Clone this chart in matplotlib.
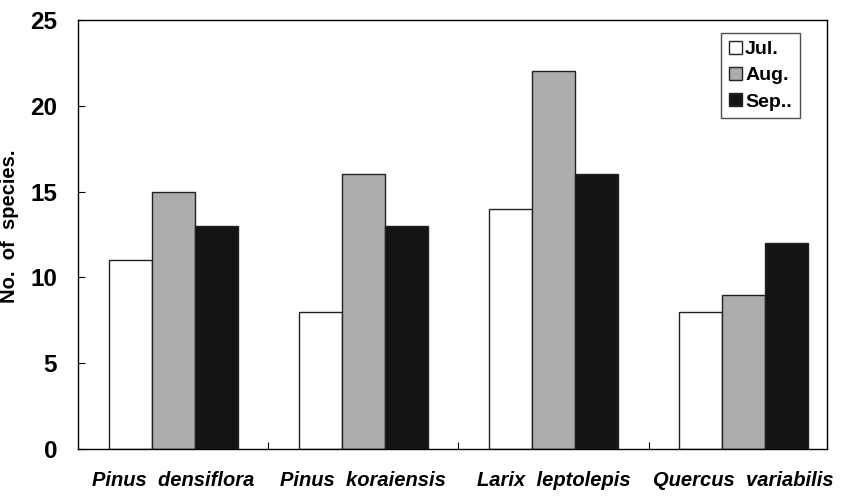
import matplotlib.pyplot as plt
import numpy as np

plt.rcParams['font.family'] = ['Liberation Sans', 'DejaVu Sans']

species = ["Pinus  densiflora", "Pinus  koraiensis", "Larix  leptolepis", "Quercus  variabilis"]
months = ["Jul.", "Aug.", "Sep.."]
jul = [11, 8, 14, 8]
aug = [15, 16, 22, 9]
sep = [13, 13, 16, 12]
colors = ["white", "#adadad", "#141414"]

fig = plt.figure(figsize=(8.43, 4.98), dpi=100)
ax = fig.add_axes([0.0925, 0.098, 0.889, 0.862])

x = np.arange(len(species))
w = 0.226
for i, (vals, c, lab) in enumerate(zip([jul, aug, sep], colors, months)):
    ax.bar(x + (i - 1) * w, vals, w, color=c, edgecolor="#222222", linewidth=1, label=lab)

ax.set_xlim(-0.5, 3.44)
ax.set_ylim(0, 25)
ax.set_yticks([0, 5, 10, 15, 20, 25])
ax.set_yticklabels(["0", "5", "10", "15", "20", "25"], fontsize=17.5, fontweight="bold")
ax.tick_params(axis="y", direction="in", length=5, pad=15)

# group boundary ticks, labels placed separately
ax.set_xticks([0.5, 1.5, 2.5])
ax.set_xticks(x, minor=True)
ax.set_xticklabels([])
ax.set_xticklabels(species, minor=True, fontsize=14.5, fontweight="bold", style="italic")
ax.tick_params(axis="x", which="major", direction="in", length=5)
ax.tick_params(axis="x", which="minor", length=0, pad=16)

ax.set_ylabel("No.  of  species.", fontsize=14.5, fontweight="bold")
ax.yaxis.set_label_coords(-0.079, 0.52)

leg = ax.legend(loc="upper right", bbox_to_anchor=(0.963, 0.97), fancybox=False,
                edgecolor="#222222", handlelength=0.68, handleheight=0.68,
                handletextpad=0.15, borderpad=0.4, labelspacing=0.45,
                borderaxespad=0, prop={"weight": "bold", "size": 14})
leg.get_frame().set_linewidth(1)

for s in ax.spines.values():
    s.set_linewidth(1)

fig.savefig("out.png", dpi=100)
